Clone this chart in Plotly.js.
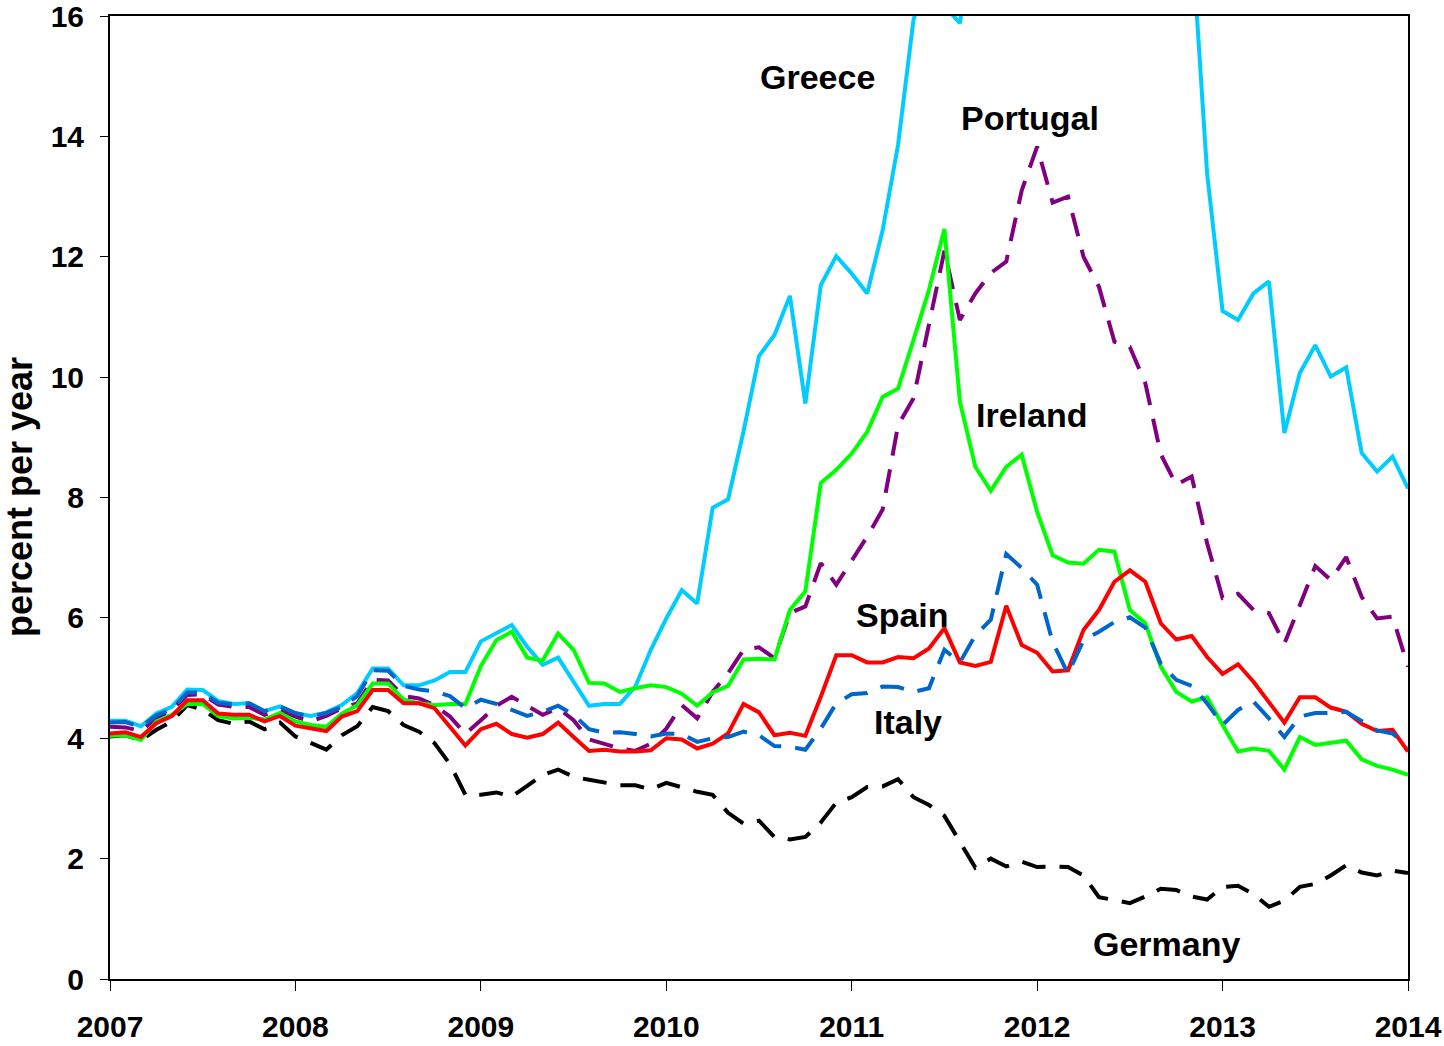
<!DOCTYPE html>
<html>
<head>
<meta charset="utf-8">
<script src="https://cdn.plot.ly/plotly-3.0.1.min.js"></script>
<style>
html,body{margin:0;padding:0;background:#fff;}
#chart{width:1444px;height:1046px;}
</style>
</head>
<body>
<div id="chart"></div>
<script>
// Monthly 10-year government bond yields, Jan 2007 .. Jan 2014 (percent per year)
const startYear = 2007;
const monthCount = 85;

const greece = [
  4.29, 4.29, 4.20, 4.41, 4.52, 4.81, 4.80, 4.62, 4.57, 4.58, 4.45, 4.53,
  4.41, 4.37, 4.43, 4.55, 4.75, 5.16, 5.16, 4.88, 4.88, 4.96, 5.10, 5.10,
  5.61, 5.74, 5.88, 5.52, 5.22, 5.34, 4.94, 4.54, 4.57, 4.57, 4.86, 5.47,
  5.99, 6.46, 6.24, 7.83, 7.97, 9.10, 10.35, 10.70, 11.35, 9.56, 11.53, 12.01,
  11.72, 11.39, 12.44, 13.86, 15.94, 16.69, 16.17, 15.88, 17.84, 18.04, 17.92, 21.14,
  25.91, 29.24, 19.07, 21.48, 26.90, 27.82, 25.82, 24.34, 20.91, 17.96, 17.35, 13.38,
  11.10, 10.95, 11.39, 11.59, 9.07, 10.07, 10.53, 10.01, 10.16, 8.74, 8.43, 8.68, 8.15
];
const portugal = [
  4.19, 4.18, 4.12, 4.33, 4.47, 4.72, 4.73, 4.56, 4.52, 4.52, 4.39, 4.47,
  4.36, 4.28, 4.37, 4.50, 4.58, 4.97, 4.96, 4.70, 4.66, 4.55, 4.36, 4.07,
  4.30, 4.54, 4.69, 4.54, 4.39, 4.50, 4.30, 3.98, 3.91, 3.83, 3.79, 3.91,
  4.16, 4.55, 4.33, 4.77, 5.08, 5.47, 5.51, 5.33, 6.08, 6.19, 6.91, 6.55,
  6.95, 7.35, 7.80, 9.20, 9.65, 10.90, 12.10, 10.95, 11.39, 11.73, 11.92, 13.10,
  13.83, 12.90, 13.00, 12.00, 11.50, 10.59, 10.50, 9.90, 8.72, 8.21, 8.35, 7.24,
  6.33, 6.40, 6.13, 6.08, 5.57, 6.21, 6.86, 6.63, 7.01, 6.35, 5.99, 6.02, 5.19
];
const ireland = [
  4.04, 4.05, 3.97, 4.28, 4.39, 4.57, 4.57, 4.37, 4.33, 4.34, 4.31, 4.42,
  4.28, 4.22, 4.19, 4.41, 4.55, 4.91, 4.91, 4.64, 4.58, 4.55, 4.57, 4.57,
  5.20, 5.63, 5.77, 5.34, 5.29, 5.74, 5.47, 4.92, 4.91, 4.77, 4.83, 4.88,
  4.85, 4.74, 4.54, 4.76, 4.87, 5.31, 5.32, 5.31, 6.13, 6.44, 8.24, 8.46,
  8.73, 9.09, 9.67, 9.81, 10.62, 11.45, 12.46, 9.59, 8.51, 8.11, 8.51, 8.71,
  7.76, 7.04, 6.92, 6.90, 7.13, 7.10, 6.13, 5.91, 5.19, 4.77, 4.61, 4.68,
  4.22, 3.78, 3.83, 3.79, 3.48, 4.02, 3.89, 3.93, 3.96, 3.65, 3.54, 3.48, 3.39
];
const spain = [
  4.08, 4.10, 4.02, 4.25, 4.37, 4.63, 4.63, 4.41, 4.39, 4.39, 4.28, 4.37,
  4.21, 4.17, 4.12, 4.36, 4.45, 4.80, 4.80, 4.58, 4.58, 4.50, 4.19, 3.88,
  4.15, 4.24, 4.07, 4.01, 4.07, 4.26, 4.02, 3.79, 3.81, 3.78, 3.78, 3.80,
  4.00, 3.98, 3.83, 3.91, 4.08, 4.57, 4.43, 4.05, 4.09, 4.04, 4.69, 5.38,
  5.38, 5.26, 5.26, 5.35, 5.33, 5.49, 5.83, 5.26, 5.20, 5.27, 6.20, 5.55,
  5.42, 5.11, 5.13, 5.80, 6.13, 6.60, 6.79, 6.60, 5.91, 5.64, 5.70, 5.35,
  5.07, 5.23, 4.94, 4.61, 4.26, 4.68, 4.68, 4.51, 4.44, 4.24, 4.12, 4.14, 3.78
];
const italy = [
  4.26, 4.27, 4.19, 4.38, 4.48, 4.76, 4.76, 4.59, 4.56, 4.58, 4.45, 4.53,
  4.42, 4.36, 4.42, 4.52, 4.70, 5.13, 5.12, 4.87, 4.81, 4.78, 4.70, 4.50,
  4.64, 4.57, 4.47, 4.37, 4.44, 4.54, 4.39, 4.15, 4.09, 4.10, 4.07, 4.03,
  4.08, 4.07, 3.94, 4.00, 4.02, 4.11, 4.05, 3.87, 3.86, 3.81, 4.16, 4.58,
  4.73, 4.75, 4.86, 4.85, 4.77, 4.83, 5.47, 5.26, 5.71, 5.97, 7.06, 6.83,
  6.55, 5.60, 5.07, 5.63, 5.77, 5.93, 6.01, 5.84, 5.24, 4.97, 4.87, 4.58,
  4.22, 4.47, 4.61, 4.33, 4.02, 4.36, 4.42, 4.42, 4.44, 4.28, 4.13, 4.08, 3.87
];
const germany = [
  4.03, 4.05, 3.97, 4.14, 4.28, 4.55, 4.48, 4.30, 4.24, 4.28, 4.15, 4.26,
  4.03, 3.92, 3.81, 4.05, 4.20, 4.52, 4.45, 4.22, 4.11, 3.92, 3.57, 3.06,
  3.06, 3.10, 3.03, 3.21, 3.39, 3.48, 3.36, 3.31, 3.26, 3.22, 3.22, 3.15,
  3.26, 3.18, 3.11, 3.06, 2.76, 2.58, 2.63, 2.36, 2.32, 2.36, 2.60, 2.93,
  3.02, 3.19, 3.20, 3.32, 3.02, 2.89, 2.71, 2.28, 1.85, 2.00, 1.87, 1.95,
  1.86, 1.87, 1.86, 1.72, 1.36, 1.31, 1.26, 1.37, 1.50, 1.48, 1.37, 1.32,
  1.53, 1.55, 1.41, 1.20, 1.30, 1.53, 1.58, 1.72, 1.89, 1.77, 1.72, 1.80, 1.76
];
const yearTicks = [2007, 2008, 2009, 2010, 2011, 2012, 2013, 2014];
const yTicks = [0, 2, 4, 6, 8, 10, 12, 14, 16];

// time axis: fractional years, one point per month
const t = [];
for (let i = 0; i < monthCount; i++) t.push(startYear + i / 12);

const FONT = 'Liberation Sans, Arial, Helvetica, sans-serif';

function line(name, y, color, dash) {
  return {
    type: 'scatter', mode: 'lines', name: name, x: t, y: y,
    line: {color: color, width: 4, dash: dash || 'solid'},
    hoverinfo: 'skip'
  };
}

const data = [
  line('Germany', germany, '#000000', '24px,14px'),
  line('Greece', greece, '#00CCFF'),
  line('Portugal', portugal, '#800080', '24px,14px'),
  line('Ireland', ireland, '#00FF00'),
  line('Spain', spain, '#FF0000'),
  line('Italy', italy, '#0066CC', '24px,14px')
];

function label(text, x, y) {
  return {text: text, x: x, y: y, xref: 'x', yref: 'y', showarrow: false,
    xanchor: 'center', yanchor: 'middle',
    font: {family: FONT, size: 34, color: '#000', weight: 'bold'}};
}

const layout = {
  width: 1444, height: 1046,
  margin: {l: 110, r: 36, t: 16, b: 67},
  paper_bgcolor: '#fff', plot_bgcolor: '#fff',
  showlegend: false,
  font: {family: FONT, color: '#000'},
  xaxis: {
    range: [2007, 2014], tickvals: yearTicks, ticktext: yearTicks.map(String),
    showgrid: false, zeroline: false,
    showline: true, linecolor: '#000', linewidth: 2, mirror: true,
    ticks: 'outside', ticklen: 10, tickwidth: 1, tickcolor: '#000',
    ticklabelstandoff: 10, ticklabeloverflow: 'allow',
    tickfont: {family: FONT, size: 30, color: '#000', weight: 'bold'}
  },
  yaxis: {
    range: [0, 16], tickvals: yTicks, ticktext: yTicks.map(String),
    showgrid: false, zeroline: false,
    showline: true, linecolor: '#000', linewidth: 2, mirror: true,
    ticks: 'outside', ticklen: 8, tickwidth: 1, tickcolor: '#000',
    ticklabelstandoff: 10, ticklabeloverflow: 'allow',
    tickfont: {family: FONT, size: 30, color: '#000', weight: 'bold'}
  },
  annotations: [
    label('Greece', 2010.813, 14.99),
    label('Portugal', 2011.961, 14.30),
    label('Ireland', 2011.967, 9.37),
    label('Spain', 2011.276, 6.05),
    label('Italy', 2011.303, 4.27),
    label('Germany', 2012.70, 0.58),
    {text: 'percent per year', xref: 'paper', yref: 'paper', x: -0.0701, y: 0.5005,
      xanchor: 'center', yanchor: 'middle', textangle: -90, showarrow: false,
      font: {family: FONT, size: 36, color: '#000', weight: 'bold'}}
  ]
};

Plotly.newPlot('chart', data, layout, {displayModeBar: false, staticPlot: true});
</script>
</body>
</html>
